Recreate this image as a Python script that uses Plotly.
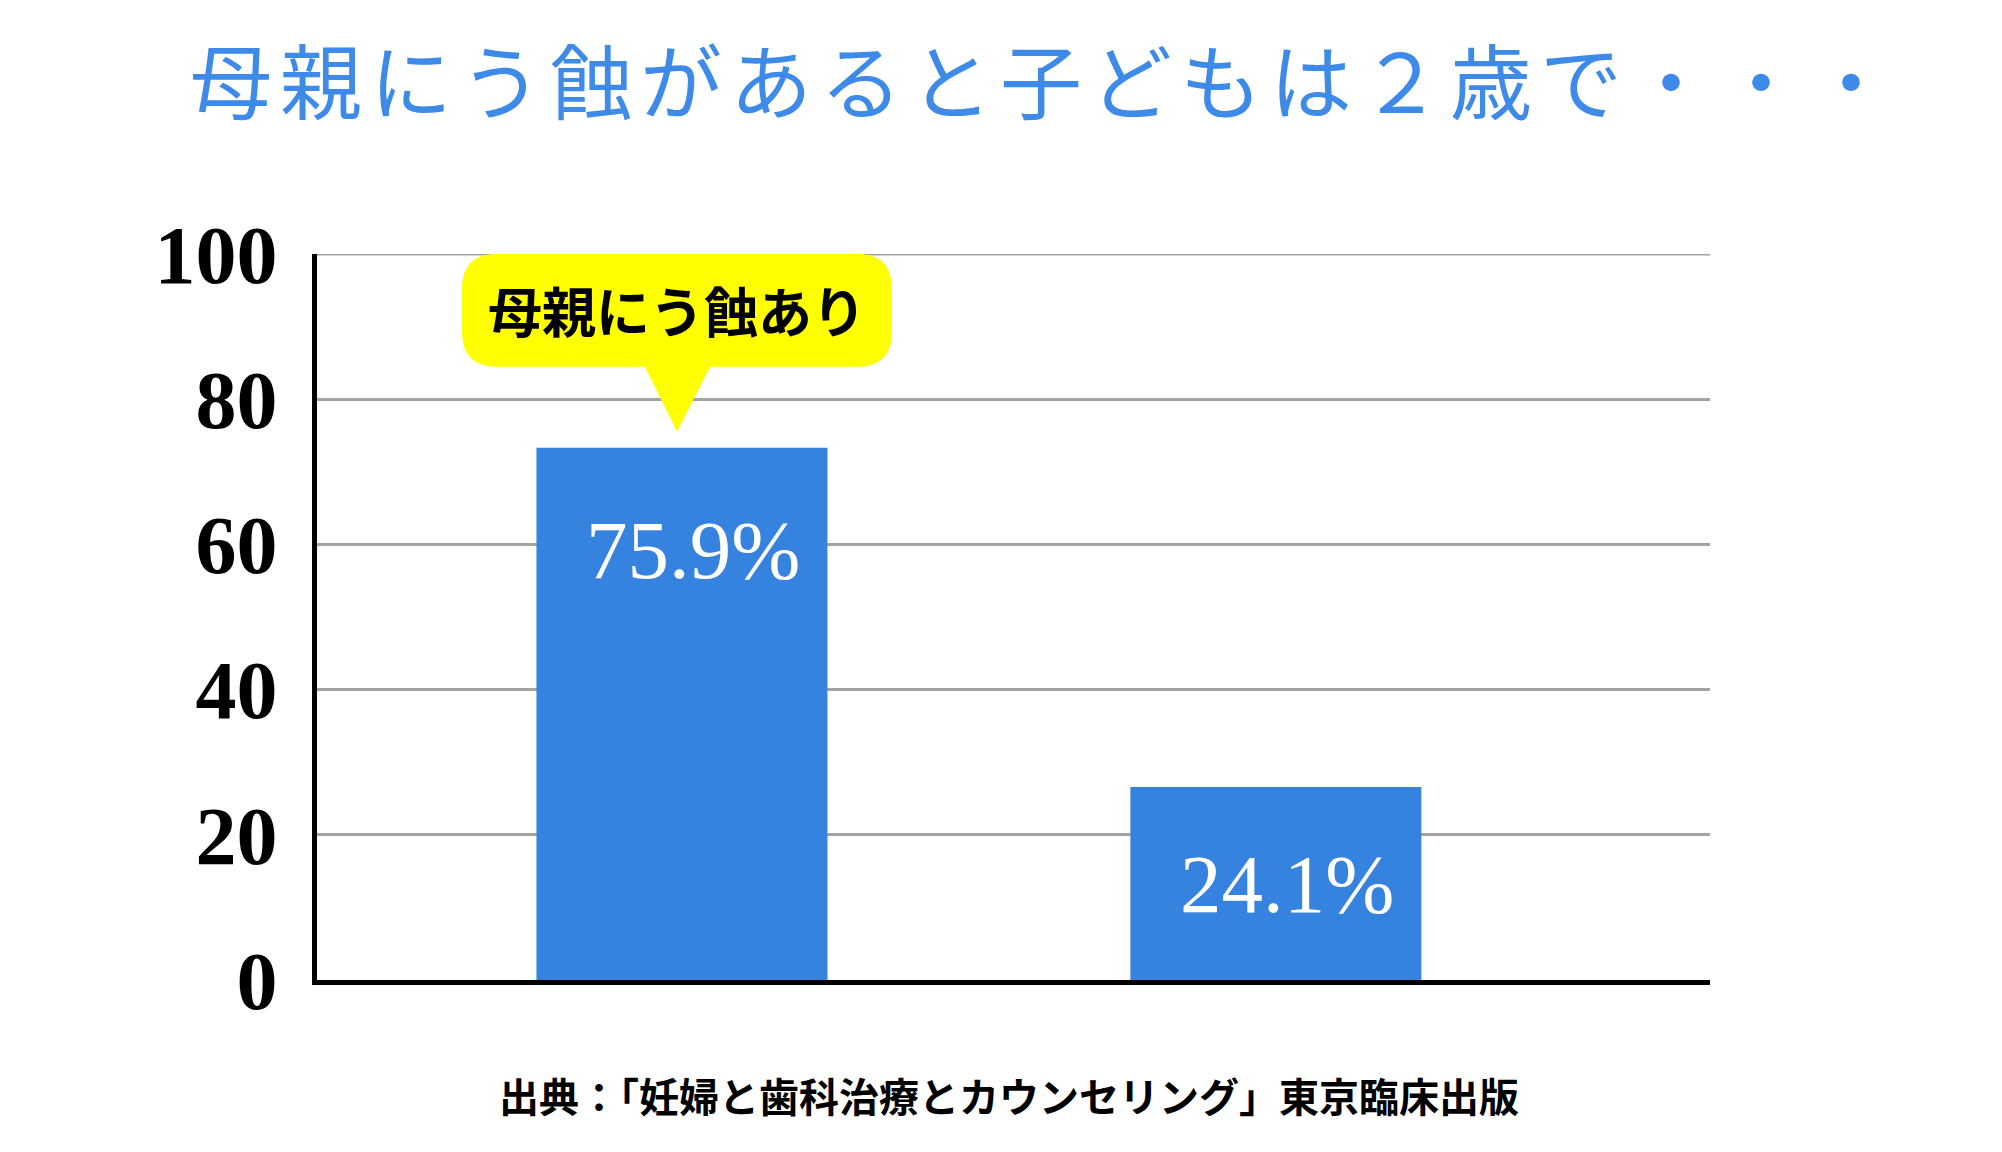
import plotly.graph_objects as go

# ---- data ----
categories = ["母親にう蝕あり", "母親にう蝕なし"]
bar_values = [73.3, 26.6]          # bar heights as drawn in the picture
value_labels = ["75.9%", "24.1%"]
y_ticks = [0, 20, 40, 60, 80, 100]
title_text = "母親にう蝕があると子どもは２歳で・・・"
callout_text = "母親にう蝕あり"
source_text = "出典：「妊婦と歯科治療とカウンセリング」東京臨床出版"

BAR_COLOR = "#3583df"
TITLE_COLOR = "#3d8ae8"
GRID = "#a3a3a3"
SERIF = "Liberation Serif, Noto Sans CJK JP, serif"
CJK = "Noto Sans CJK JP, sans-serif"

L, R, T, B = 317, 292, 254, 172

fig = go.Figure()
fig.add_trace(go.Bar(
    x=categories, y=bar_values, width=0.49,
    marker=dict(color=BAR_COLOR, line=dict(width=0)),
    hoverinfo="skip",
))

# top gridline (plotly hides the gridline lying on the plot edge)
fig.add_shape(type="line", xref="paper", yref="y", x0=0, x1=1,
              y0=y_ticks[-1], y1=y_ticks[-1], line=dict(color=GRID, width=3), layer="below")

# value labels inside bars
for cat, val, lab, dx, dy in zip(categories, bar_values, value_labels, [11, 11], [-102, -97]):
    fig.add_annotation(x=cat, y=val, text=lab, showarrow=False,
                       xshift=dx, yshift=dy,
                       font=dict(family=SERIF, size=83, color="white"))

# speech-bubble callout anchored at the first bar top (pixel-sized path)
r = 35
x0, x1, y0, y1 = -220, 210, 81, 194
bubble = (f"M{x0+r},{y0} L-37,{y0} L-5,16 L28,{y0} L{x1-r},{y0} "
          f"Q{x1},{y0} {x1},{y0+r} L{x1},{y1-r} Q{x1},{y1} {x1-r},{y1} "
          f"L{x0+r},{y1} Q{x0},{y1} {x0},{y1-r} L{x0},{y0+r} Q{x0},{y0} {x0+r},{y0} Z")
fig.add_shape(type="path", xref="x", yref="y",
              xsizemode="pixel", ysizemode="pixel",
              xanchor=categories[0], yanchor=bar_values[0],
              path=bubble, fillcolor="#ffff00", line=dict(width=0), layer="above")
fig.add_annotation(x=categories[0], y=bar_values[0], text=f"<b>{callout_text}</b>",
                   showarrow=False, xshift=-5, yshift=138,
                   font=dict(family=CJK, size=54, color="black"))

# title
fig.add_annotation(xref="paper", yref="paper", x=0.5, y=1, yanchor="middle",
                   xshift=(1045 - (L + 2002 - R) / 2), yshift=T - 77,
                   text=f'<span style="letter-spacing:8px">{title_text}</span>',
                   showarrow=False,
                   font=dict(family=CJK, size=82, color=TITLE_COLOR))

# source footnote
fig.add_annotation(xref="paper", yref="paper", x=0.5, y=0, yanchor="middle",
                   xshift=(1009 - (L + 2002 - R) / 2), yshift=-(1095 - (1152 - B)),
                   text=f"<b>{source_text}</b>", showarrow=False,
                   font=dict(family=CJK, size=40, color="black"))

fig.update_layout(
    width=2002, height=1152,
    margin=dict(l=L, r=R, t=T, b=B),
    paper_bgcolor="white", plot_bgcolor="white",
    showlegend=False,
    xaxis=dict(range=[-0.6145, 1.731], showticklabels=False, ticks="",
               showgrid=False, zeroline=False,
               showline=True, linecolor="black", linewidth=5),
    yaxis=dict(range=[0, 100], tickvals=y_ticks, ticktext=[str(t) for t in y_ticks],
               showgrid=True, gridcolor=GRID, gridwidth=3,
               zeroline=False, showline=True, linecolor="black", linewidth=5,
               ticks="", ticklen=0, ticklabelstandoff=18,
               tickfont=dict(family="Liberation Serif", size=82, color="black", weight="bold")),
)

fig.write_html("out.html")
